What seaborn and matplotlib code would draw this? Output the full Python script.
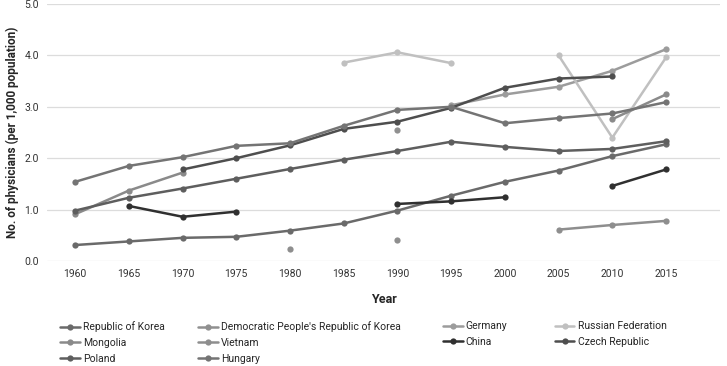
import numpy as np
import pandas as pd
import matplotlib
matplotlib.use("Agg")
import matplotlib.pyplot as plt
import seaborn as sns

years = [1960, 1965, 1970, 1975, 1980, 1985, 1990, 1995, 2000, 2005, 2010, 2015]

# values per 1,000 population, None = no data
korea = [0.31, 0.38, 0.45, 0.47, 0.59, 0.73, 0.98, 1.27, 1.54, 1.76, 2.04, 2.27]
dprk = [None, None, None, None, None, None, 2.54, None, None, None, None, None]
germany = [None, None, None, None, None, None, None, 3.03, 3.24, 3.39, 3.70, 4.12]
russia = [None, None, None, None, None, 3.86, 4.06, 3.85, None, 4.00, 2.40, 3.96]
mongolia = [0.91, 1.37, 1.72, None, None, None, None, None, None, None, 2.76, 3.24]
vietnam = [None, None, None, None, 0.24, None, 0.41, None, None, 0.61, 0.70, 0.78]
china = [None, 1.07, 0.86, 0.96, None, None, 1.11, 1.16, 1.24, None, 1.46, 1.78]
czech = [None, None, 1.78, 2.00, 2.25, 2.57, 2.71, 2.98, 3.37, 3.55, 3.59, None]
poland = [0.98, 1.23, 1.41, 1.60, 1.79, 1.97, 2.14, 2.32, 2.22, 2.14, 2.18, 2.33]
hungary = [1.54, 1.85, 2.02, 2.24, 2.29, 2.63, 2.94, 3.00, 2.68, 2.78, 2.87, 3.09]

countries = ["Republic of Korea", "Democratic People's Republic of Korea", "Germany",
             "Russian Federation", "Mongolia", "Vietnam", "China", "Czech Republic",
             "Poland", "Hungary"]
series = [korea, dprk, germany, russia, mongolia, vietnam, china, czech, poland, hungary]
colors = ["#6a6a6a", "#909090", "#9c9c9c", "#c0c0c0", "#8a8a8a",
          "#8e8e8e", "#303030", "#4e4e4e", "#5e5e5e", "#747474"]

# long table, one segment id per unbroken run so gaps stay open
rows = []
for name, vals in zip(countries, series):
    seg = 0
    prev = None
    for yr, v in zip(years, vals):
        if v is None:
            prev = None
            continue
        if prev is None:
            seg += 1
        rows.append({"Year": yr, "value": v, "Country": name, "seg": f"{name}-{seg}"})
        prev = v
df = pd.DataFrame(rows)

sns.set_style("white")
plt.rcParams["font.family"] = ["Roboto", "DejaVu Sans"]

fig = plt.figure(figsize=(7.27, 3.66), dpi=100)
ax = fig.add_axes([0.065, 0.287, 0.925, 0.702])

sns.lineplot(data=df, x="Year", y="value", hue="Country", hue_order=countries,
             units="seg", estimator=None, palette=colors, marker="o",
             markersize=4.5, markeredgewidth=0, linewidth=1.8, ax=ax, legend=True)

ax.set_xlim(1957.4, 2020)
ax.set_ylim(0, 5)
ax.set_xticks(years)
ax.set_yticks(np.arange(0, 5.1, 1))
ax.set_yticklabels([f"{v:.1f}" for v in np.arange(0, 5.1, 1)])
ax.yaxis.grid(True, color="#dcdcdc", linewidth=0.9)
ax.set_axisbelow(True)
for s in ax.spines.values():
    s.set_visible(False)
ax.tick_params(axis="both", length=0, labelsize=7.5, colors="#333333", pad=6)
ax.set_xlabel("Year", fontsize=9, fontweight="bold", labelpad=10)
ax.set_ylabel("No. of physicians (per 1,000 population)", fontsize=8.5,
              fontweight="bold", labelpad=4)

handles, labels = ax.get_legend_handles_labels()
ax.get_legend().remove()
# one legend per column, placed where the reference columns start
col_items = [[0, 4, 8], [1, 5, 9], [2, 6], [3, 7]]
col_x = [0.0825, 0.272, 0.609, 0.763]
for items, x in zip(col_items, col_x):
    fig.legend([handles[i] for i in items], [labels[i] for i in items],
               loc="upper left", bbox_to_anchor=(x, 0.122), frameon=False,
               fontsize=7.5, handlelength=1.9, handletextpad=0.3,
               labelspacing=0.55, borderaxespad=0, borderpad=0)

fig.savefig("out.png", dpi=100)
